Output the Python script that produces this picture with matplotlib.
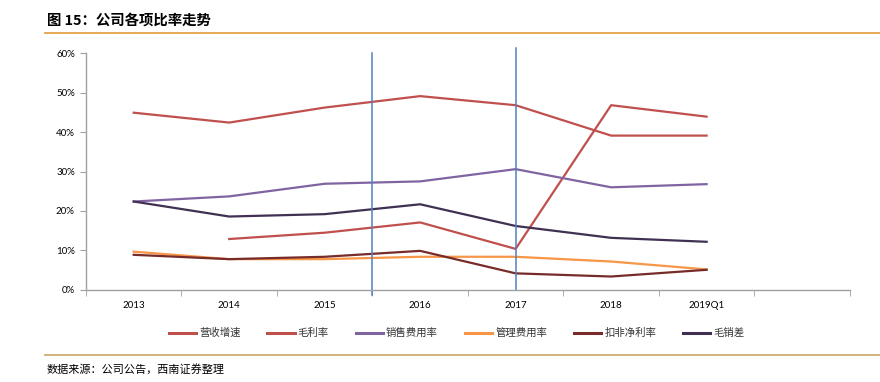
import numpy as np
import matplotlib.pyplot as plt
from matplotlib.lines import Line2D

plt.rcParams['font.family'] = ['Noto Sans CJK SC', 'DejaVu Sans']

years = ['2013', '2014', '2015', '2016', '2017', '2018', '2019Q1']
yingshou = [np.nan, 12.9, 14.5, 17.1, 10.4, 46.8, 43.9]   # 营收增速
maoli = [44.9, 42.4, 46.2, 49.1, 46.8, 39.1, 39.1]        # 毛利率
xiaoshou = [22.4, 23.7, 26.9, 27.5, 30.6, 26.0, 26.8]     # 销售费用率
guanli = [9.7, 7.8, 7.8, 8.4, 8.4, 7.2, 5.2]              # 管理费用率
koufei = [8.9, 7.8, 8.4, 9.9, 4.2, 3.4, 5.1]              # 扣非净利率
maoxiao = [22.4, 18.6, 19.2, 21.7, 16.2, 13.2, 12.2]      # 毛销差

series = [
    ('营收增速', yingshou, '#C0504D'),
    ('毛利率', maoli, '#C0504D'),
    ('销售费用率', xiaoshou, '#8064A2'),
    ('管理费用率', guanli, '#F79646'),
    ('扣非净利率', koufei, '#772C2A'),
    ('毛销差', maoxiao, '#403152'),
]

fig = plt.figure(figsize=(8.8, 3.82), dpi=100)
ax = fig.add_axes([0.0977, 0.241, 0.868, 0.620])

x = np.arange(len(years))
for name, vals, col in series:
    ax.plot(x, np.array(vals) / 100, color=col, lw=1.6, label=name)

ax.set_xlim(-0.5, 7.5)
ax.set_ylim(0, 0.6)
ax.set_yticks(np.arange(0, 0.61, 0.1))
ax.set_yticklabels(['%d%%' % v for v in range(0, 61, 10)], fontsize=7, family='Lato')
ax.set_xticks(x)
ax.set_xticklabels(years, fontsize=7, family='Lato')
ax.set_xticks(np.arange(-0.5, 7.6, 1), minor=True)
ax.tick_params(axis='x', which='major', length=0, pad=8)
ax.tick_params(axis='x', which='minor', length=4, color='#A0A0A0', direction='out')
ax.tick_params(axis='y', length=4, color='#A0A0A0', pad=4)
for s in ['top', 'right']:
    ax.spines[s].set_visible(False)
for s in ['left', 'bottom']:
    ax.spines[s].set_color('#A0A0A0')
    ax.spines[s].set_linewidth(1)

# vertical markers
trans = ax.get_xaxis_transform()
ax.add_line(Line2D([2.5, 2.5], [-0.021, 1.0], transform=trans, color='#4F81BD', lw=1.1, clip_on=False))
ax.add_line(Line2D([4.0, 4.0], [0.0, 1.021], transform=trans, color='#4F81BD', lw=1.1, clip_on=False))

leg = fig.legend(loc='center', bbox_to_anchor=(0.519, 0.128), ncol=6, frameon=False,
                 fontsize=7.5, handlelength=2.6, columnspacing=2.6, handletextpad=0.3)
for h in leg.get_lines():
    h.set_linewidth(2.2)
for t in leg.get_texts():
    t.set_color('#333333')

fig.text(0.053, 0.945, '图 15：公司各项比率走势', fontsize=10.4, fontweight='bold', va='center')
fig.add_artist(Line2D([0.051, 1.0], [0.913, 0.913], transform=fig.transFigure, color='#E09A3C', lw=1.2))
fig.add_artist(Line2D([0.051, 1.0], [0.071, 0.071], transform=fig.transFigure, color='#C9A46A', lw=1.2))
fig.text(0.053, 0.034, '数据来源：公司公告，西南证券整理', fontsize=8, style='italic', va='center')

fig.savefig('out.png', dpi=100)
